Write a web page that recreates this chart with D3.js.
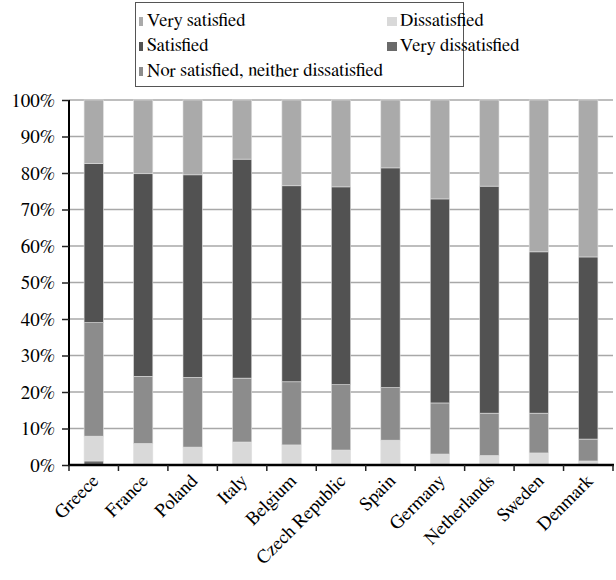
<!DOCTYPE html>
<html><head><meta charset="utf-8">
<script src="https://cdn.jsdelivr.net/npm/d3@7"></script>
<style>body{margin:0;background:#fff}svg{display:block}</style>
</head><body><svg id="c" width="616" height="580"></svg>
<script>
const countries = ["Greece","France","Poland","Italy","Belgium","Czech Republic","Spain","Germany","Netherlands","Sweden","Denmark"];
const veryDissatisfied = [1.1,0,0,0,0,0,0.3,0,0,0,0];
const dissatisfied = [6.8,5.9,4.9,6.3,5.5,4.1,6.5,3.0,2.6,3.3,1.1];
const neither = [31.1,18.4,19.1,17.5,17.3,17.9,14.4,14.0,11.6,10.9,6.0];
const satisfied = [43.6,55.5,55.5,60.0,53.7,54.2,60.2,55.9,62.2,44.2,49.9];
const verySatisfied = countries.map((c,i)=>+(100-veryDissatisfied[i]-dissatisfied[i]-neither[i]-satisfied[i]).toFixed(1));
const yTicks = [0,10,20,30,40,50,60,70,80,90,100];

const FONT = "FreeSerif";
const keys = ["vd","d","n","s","vs"];
const colors = {vd:"#6a6a6a", d:"#d9d9d9", n:"#8c8c8c", s:"#525252", vs:"#aaaaaa"};
const rows = countries.map((c,i)=>({country:c, vd:veryDissatisfied[i], d:dissatisfied[i], n:neither[i], s:satisfied[i], vs:verySatisfied[i]}));

const svg = d3.select("#c");
const L=69, R=613, T=100, B=465;
const x = d3.scaleBand().domain(countries).range([L,R]).padding(0);
const y = d3.scaleLinear().domain([0,100]).range([B,T]);
const bw = x.bandwidth()*0.39;

// gridlines
svg.append("g").selectAll("line").data(yTicks.filter(t=>t>0)).join("line")
  .attr("x1",L).attr("x2",R).attr("y1",d=>y(d)).attr("y2",d=>y(d))
  .attr("stroke","#a8a8a8").attr("stroke-width",1.5);

const series = d3.stack().keys(keys)(rows);
svg.append("g").selectAll("g").data(series).join("g")
  .attr("fill",d=>colors[d.key])
  .selectAll("rect").data(d=>d.filter(p=>p[1]-p[0]>0)).join("rect")
  .attr("x",d=>x(d.data.country)+(x.bandwidth()-bw)/2)
  .attr("width",bw)
  .attr("y",d=>y(d[1]))
  .attr("height",d=>y(d[0])-y(d[1]))
  .attr("stroke","#e0e0e0").attr("stroke-width",0.6);

// y axis
const ya = svg.append("g").attr("transform",`translate(${L},0)`)
  .call(d3.axisLeft(y).tickValues(yTicks).tickFormat(d=>d+"%").tickSize(7).tickPadding(7));
ya.attr("font-family",FONT).attr("font-size",19);
ya.select(".domain").attr("stroke","#000").attr("stroke-width",2).attr("d",`M0,${B}V${T}`);
ya.selectAll(".tick line").attr("stroke","#222").attr("stroke-width",1.5);
ya.selectAll("text").attr("font-family",FONT).attr("font-size",19).attr("fill","#000");

// x axis
const xa = svg.append("g").attr("transform",`translate(0,${B})`);
xa.append("line").attr("x1",L-1).attr("x2",R+1).attr("y1",0).attr("y2",0).attr("stroke","#000").attr("stroke-width",2.5);
const bounds = countries.map(c=>x(c)).concat([x(countries[countries.length-1])+x.bandwidth()]);
xa.selectAll(".xt").data(bounds).join("line").attr("class","xt")
  .attr("x1",d=>d).attr("x2",d=>d).attr("y1",0).attr("y2",6).attr("stroke","#222").attr("stroke-width",1.5);
xa.selectAll(".xl").data(countries).join("text").attr("class","xl")
  .attr("transform",d=>`translate(${x(d)+x.bandwidth()/2+6},${17}) rotate(-45)`)
  .attr("text-anchor","end").attr("font-family",FONT).attr("font-size",19).text(d=>d);

// legend
const lg = svg.append("g");
lg.append("rect").attr("x",135.5).attr("y",2.5).attr("width",328).attr("height",84)
  .attr("fill","#fff").attr("stroke","#555").attr("stroke-width",1);
const legItems = [
  {k:"vs",label:"Very satisfied",x:138,y:26},
  {k:"s",label:"Satisfied",x:138,y:51},
  {k:"n",label:"Nor satisfied, neither dissatisfied",x:138,y:76},
  {k:"d",label:"Dissatisfied",x:387,y:26},
  {k:"vd",label:"Very dissatisfied",x:387,y:51}
];
const wide = d=>d.k==="d"||d.k==="vd";
lg.selectAll("rect.sw").data(legItems).join("rect").attr("class","sw")
  .attr("x",d=>wide(d)?d.x:d.x+1).attr("y",d=>d.y-9).attr("width",d=>wide(d)?10:4).attr("height",9)
  .attr("fill",d=>colors[d.k]);
lg.selectAll("text").data(legItems).join("text")
  .attr("x",d=>d.x+(wide(d)?13:9)).attr("y",d=>d.y)
  .attr("font-family",FONT).attr("font-size",18.5).text(d=>d.label);
</script></body></html>
